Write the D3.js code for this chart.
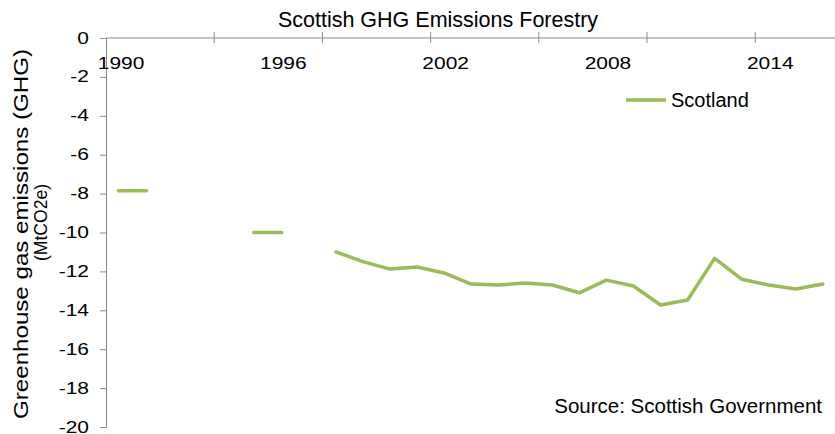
<!DOCTYPE html>
<html>
<head>
<meta charset="utf-8">
<script src="https://cdn.jsdelivr.net/npm/d3@7"></script>
<style>
    body { margin: 0; background: #fff; }
    svg { display: block; font-family: "Liberation Sans", Arial, sans-serif; }
</style>
</head>
<body>
<div id="chart"></div>
<script>
// yearly categories 1990-2016
const years = d3.range(1990, 2017);

// Scotland forestry emissions (MtCO2e), null = no value
const scotland = [
    -7.85, null, null, null, null, -10.0, null, null,
    -11.0, -11.5, -11.88, -11.77, -12.08, -12.65, -12.7, -12.6,
    -12.7, -13.1, -12.45, -12.75, -13.73, -13.47, -11.33, -12.4,
    -12.7, -12.9, -12.65
];

const yTicks = [0, -2, -4, -6, -8, -10, -12, -14, -16, -18, -20];
const labelYears = [1990, 1996, 2002, 2008, 2014];

const LINE_COLOR = '#9bbb59';
const AXIS_COLOR = '#898989';
// tick labels in the original are drawn wider than tall
const TICK_STRETCH = 1.27;

function drawChart() {
    const width = 835, height = 434;
    const margin = { top: 38, right: 0, bottom: 7, left: 106 };

    const svg = d3.select('#chart')
        .append('svg')
        .attr('width', width)
        .attr('height', height);

    const x = d3.scaleBand()
        .domain(years)
        .range([margin.left, margin.left + years.length * 27.05]);

    const y = d3.scaleLinear()
        .domain([0, -20])
        .range([margin.top, height - margin.bottom]);

    const cx = yr => x(yr) + x.bandwidth() / 2;

    // title
    svg.append('text')
        .attr('x', 438)
        .attr('y', 26.5)
        .attr('text-anchor', 'middle')
        .style('font-size', '21.5px')
        .style('fill', '#000')
        .text('Scottish GHG Emissions Forestry');

    // y axis (labels drawn separately)
    const yAxis = svg.append('g')
        .attr('transform', `translate(${margin.left},0)`)
        .call(d3.axisLeft(y).tickValues(yTicks).tickSize(6).tickFormat(''));
    yAxis.select('.domain').attr('stroke', AXIS_COLOR);
    yAxis.selectAll('.tick line').attr('stroke', AXIS_COLOR);

    svg.selectAll('.ylabel')
        .data(yTicks)
        .enter()
        .append('text')
        .attr('class', 'ylabel')
        .attr('transform', d => `translate(89,${y(d) + 5.5}) scale(${TICK_STRETCH},1)`)
        .attr('text-anchor', 'end')
        .style('font-size', '16.5px')
        .text(d => d === 0 ? '0' : '-' + Math.abs(d));

    // x axis along the zero line
    const g0 = y(0);
    svg.append('line')
        .attr('x1', margin.left).attr('x2', width)
        .attr('y1', g0).attr('y2', g0)
        .attr('stroke', AXIS_COLOR);

    // cross tick marks every 4 categories
    const tickYears = years.filter((d, i) => i > 0 && i % 4 === 0);
    svg.selectAll('.xtick')
        .data(tickYears)
        .enter()
        .append('line')
        .attr('class', 'xtick')
        .attr('x1', d => x(d)).attr('x2', d => x(d))
        .attr('y1', g0 - 6).attr('y2', g0 + 5)
        .attr('stroke', AXIS_COLOR);

    svg.selectAll('.xlabel')
        .data(labelYears)
        .enter()
        .append('text')
        .attr('class', 'xlabel')
        .attr('transform', d => `translate(${cx(d) + 1.5},69) scale(${TICK_STRETCH},1)`)
        .attr('text-anchor', 'middle')
        .style('font-size', '16.5px')
        .text(d => d);

    // y axis title, two lines
    svg.append('text')
        .attr('transform', 'translate(28,234) rotate(-90)')
        .attr('text-anchor', 'middle')
        .attr('textLength', 370)
        .attr('lengthAdjust', 'spacingAndGlyphs')
        .style('font-size', '20px')
        .text('Greenhouse gas emissions (GHG)');
    svg.append('text')
        .attr('transform', 'translate(47,222.5) rotate(-90)')
        .attr('text-anchor', 'middle')
        .attr('textLength', 77)
        .attr('lengthAdjust', 'spacingAndGlyphs')
        .style('font-size', '19px')
        .text('(MtCO2e)');

    // series line
    const pts = years.map((yr, i) => ({ year: yr, value: scotland[i] }));
    const line = d3.line()
        .defined(d => d.value !== null)
        .x(d => cx(d.year))
        .y(d => y(d.value));

    svg.append('path')
        .datum(pts)
        .attr('d', line)
        .attr('fill', 'none')
        .attr('stroke', LINE_COLOR)
        .attr('stroke-width', 3.5)
        .attr('stroke-linejoin', 'round')
        .attr('stroke-linecap', 'round');

    // isolated points drawn as short dashes
    const isolated = pts.filter((d, i) => d.value !== null &&
        (i === 0 || scotland[i - 1] === null) &&
        (i === pts.length - 1 || scotland[i + 1] === null));
    svg.selectAll('.dash')
        .data(isolated)
        .enter()
        .append('line')
        .attr('class', 'dash')
        .attr('x1', d => cx(d.year) - 1)
        .attr('x2', d => cx(d.year) + 27)
        .attr('y1', d => y(d.value))
        .attr('y2', d => y(d.value))
        .attr('stroke', LINE_COLOR)
        .attr('stroke-width', 3.5)
        .attr('stroke-linecap', 'round');

    // legend
    svg.append('line')
        .attr('x1', 626).attr('x2', 666)
        .attr('y1', 100).attr('y2', 100)
        .attr('stroke', LINE_COLOR)
        .attr('stroke-width', 3.5);
    svg.append('text')
        .attr('x', 671)
        .attr('y', 107)
        .style('font-size', '20px')
        .text('Scotland');

    // source note
    svg.append('text')
        .attr('x', 822)
        .attr('y', 413)
        .attr('text-anchor', 'end')
        .style('font-size', '20.5px')
        .text('Source: Scottish Government');
}

document.addEventListener('DOMContentLoaded', drawChart);
</script>
</body>
</html>
